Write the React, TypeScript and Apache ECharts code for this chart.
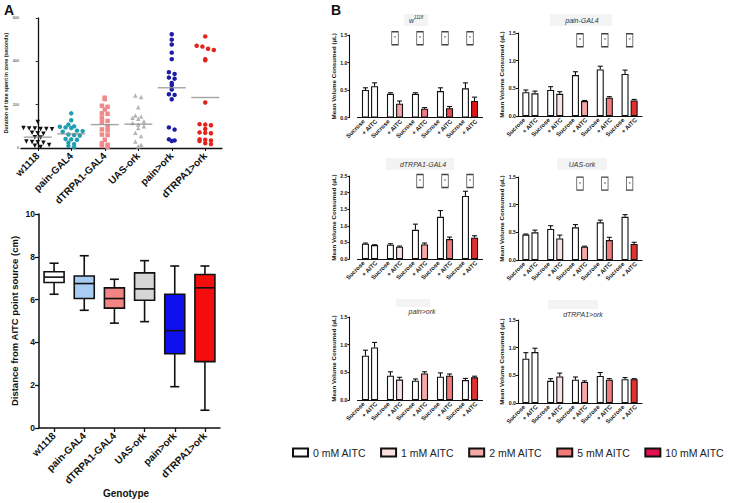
import React, { useEffect, useRef } from 'react';
import * as echarts from 'echarts';

const FONT = '"Liberation Sans", Arial, Helvetica, sans-serif';

// ---------- Panel A (top): time spent in zone ----------
const genotypes = ['w1118', 'pain-GAL4', 'dTRPA1-GAL4', 'UAS-ork', 'pain>ork', 'dTRPA1>ork'];
const dotsW1118 = [120, 92, 90, 90, 88, 88, 86, 70, 68, 66, 50, 48, 30, 28, 26, 24, 14, 10, 5];
const dotsPainGal4 = [160, 128, 108, 100, 98, 95, 92, 80, 78, 75, 62, 60, 58, 42, 40, 38, 25, 18, 10, 4];
const dotsTrpGal4 = [232, 226, 195, 190, 178, 160, 158, 140, 125, 120, 100, 86, 82, 62, 60, 38, 22, 15, 10, 5];
const dotsUasOrk = [242, 235, 188, 150, 145, 140, 135, 123, 115, 108, 100, 92, 70, 55, 30, 15, 8];
const dotsPainOrk = [525, 500, 478, 440, 410, 350, 342, 325, 320, 300, 290, 270, 248, 245, 225, 95, 85, 40, 35, 32];
const dotsTrpOrk = [515, 472, 468, 458, 452, 410, 405, 210, 110, 108, 105, 88, 72, 70, 68, 40, 38, 35, 32, 22, 18];
const dotMeans = [50, 65, 108, 110, 278, 233];
const durationTicks = [0, 200, 400, 600];

// ---------- Panel A (bottom): distance boxplot [min, Q1, median, Q3, max] ----------
const boxW1118 = [6.25, 6.8, 7.05, 7.3, 7.7];
const boxPainGal4 = [5.5, 6.05, 6.75, 7.1, 8.05];
const boxTrpGal4 = [4.9, 5.6, 6.05, 6.55, 6.95];
const boxUasOrk = [4.97, 5.97, 6.5, 7.25, 7.82];
const boxPainOrk = [1.93, 3.47, 4.55, 6.25, 7.57];
const boxTrpOrk = [0.83, 3.1, 6.55, 7.17, 7.57];

// ---------- Panel B: mean volume consumed ----------
const concGroups = ['0 mM', '1 mM', '2 mM', '5 mM', '10 mM'];
const barTickLabels = ['Sucrose', '+ AITC', 'Sucrose', '+ AITC', 'Sucrose', '+ AITC', 'Sucrose', '+ AITC', 'Sucrose', '+ AITC'];
const legendNames = ['0 mM AITC', '1 mM AITC', '2 mM AITC', '5 mM AITC', '10 mM AITC'];

const w1118Suc = [0.50, 0.43, 0.43, 0.48, 0.53];
const w1118SucErr = [0.04, 0.02, 0.02, 0.06, 0.10];
const w1118Aitc = [0.57, 0.25, 0.16, 0.17, 0.30];
const w1118AitcErr = [0.06, 0.05, 0.02, 0.03, 0.07];
const w1118Stars = [1, 2, 3, 4];

const painGal4Suc = [0.43, 0.47, 0.74, 0.84, 0.76];
const painGal4SucErr = [0.04, 0.06, 0.06, 0.06, 0.07];
const painGal4Aitc = [0.41, 0.40, 0.27, 0.33, 0.28];
const painGal4AitcErr = [0.04, 0.04, 0.01, 0.02, 0.02];
const painGal4Stars = [2, 3, 4];

const trpGal4Suc = [0.46, 0.43, 0.88, 1.27, 1.90];
const trpGal4SucErr = [0.02, 0.03, 0.17, 0.19, 0.14];
const trpGal4Aitc = [0.42, 0.37, 0.44, 0.60, 0.64];
const trpGal4AitcErr = [0.01, 0.02, 0.04, 0.06, 0.06];
const trpGal4Stars = [2, 3, 4];

const uasOrkSuc = [0.46, 0.56, 0.59, 0.68, 0.78];
const uasOrkSucErr = [0.01, 0.06, 0.05, 0.04, 0.04];
const uasOrkAitc = [0.50, 0.39, 0.24, 0.36, 0.29];
const uasOrkAitcErr = [0.04, 0.06, 0.01, 0.05, 0.03];
const uasOrkStars = [2, 3, 4];

const painOrkSuc = [0.80, 0.44, 0.35, 0.42, 0.36];
const painOrkSucErr = [0.10, 0.07, 0.03, 0.07, 0.03];
const painOrkAitc = [0.95, 0.37, 0.48, 0.44, 0.41];
const painOrkAitcErr = [0.09, 0.04, 0.03, 0.03, 0.02];

const trpOrkSuc = [0.80, 0.40, 0.42, 0.49, 0.43];
const trpOrkSucErr = [0.11, 0.04, 0.05, 0.06, 0.03];
const trpOrkAitc = [0.92, 0.48, 0.38, 0.42, 0.43];
const trpOrkAitcErr = [0.07, 0.06, 0.02, 0.02, 0.01];

// ---------- styles ----------
const dotStyles = [
  { symbol: 'triangle', rotate: 180, color: '#111111' },
  { symbol: 'circle', rotate: 0, color: '#1f9fb0' },
  { symbol: 'rect', rotate: 0, color: '#f08a8a' },
  { symbol: 'triangle', rotate: 0, color: '#b4b4b4' },
  { symbol: 'circle', rotate: 0, color: '#1c1ca8' },
  { symbol: 'circle', rotate: 0, color: '#e3231c' },
];
const boxColors = ['#ffffff', '#a9cdf2', '#f38484', '#d6d6d6', '#1010ee', '#f50c0c'];
const legendColors = ['#ffffff', '#fbe1e1', '#f5a9a9', '#ef7b7b', '#e3124f'];
const aitcColorsW1118 = ['#ffffff', '#f4a3aa', '#f07a84', '#ec4a55', '#e01515'];
const aitcColorsOther = ['#ffffff', '#fbe1e1', '#f5a9a9', '#f07a7a', '#e63030'];

const panelsB = [
  { name: 'w1118', suc: w1118Suc, sucErr: w1118SucErr, aitc: w1118Aitc, aitcErr: w1118AitcErr, stars: w1118Stars, starY: 1.44, yMax: 1.5, colors: aitcColorsW1118,
    grid: { left: 357.5, top: 35, width: 125, height: 82.5 }, yOffset: 8 },
  { name: 'pain-GAL4', suc: painGal4Suc, sucErr: painGal4SucErr, aitc: painGal4Aitc, aitcErr: painGal4AitcErr, stars: painGal4Stars, starY: 1.37, yMax: 1.5, colors: aitcColorsOther,
    grid: { left: 518, top: 33, width: 124, height: 83 }, yOffset: 0 },
  { name: 'dTRPA1-GAL4', suc: trpGal4Suc, sucErr: trpGal4SucErr, aitc: trpGal4Aitc, aitcErr: trpGal4AitcErr, stars: trpGal4Stars, starY: 2.35, yMax: 2.5, colors: aitcColorsOther,
    grid: { left: 357.5, top: 176, width: 125, height: 83 }, yOffset: 8 },
  { name: 'UAS-ork', suc: uasOrkSuc, sucErr: uasOrkSucErr, aitc: uasOrkAitc, aitcErr: uasOrkAitcErr, stars: uasOrkStars, starY: 1.38, yMax: 1.5, colors: aitcColorsOther,
    grid: { left: 518, top: 177, width: 124, height: 83 }, yOffset: 0 },
  { name: 'pain>ork', suc: painOrkSuc, sucErr: painOrkSucErr, aitc: painOrkAitc, aitcErr: painOrkAitcErr, stars: [] as number[], starY: 1.4, yMax: 1.5, colors: aitcColorsOther,
    grid: { left: 357.5, top: 317, width: 125, height: 83 }, yOffset: 8 },
  { name: 'dTRPA1>ork', suc: trpOrkSuc, sucErr: trpOrkSucErr, aitc: trpOrkAitc, aitcErr: trpOrkAitcErr, stars: [] as number[], starY: 1.4, yMax: 1.5, colors: aitcColorsOther,
    grid: { left: 518, top: 320, width: 124, height: 83 }, yOffset: 0 },
];

const dotGroups = [dotsW1118, dotsPainGal4, dotsTrpGal4, dotsUasOrk, dotsPainOrk, dotsTrpOrk];
const boxGroups = [boxW1118, boxPainGal4, boxTrpGal4, boxUasOrk, boxPainOrk, boxTrpOrk];

// beeswarm-like spread of points that share a value band
function swarm(values: number[], idx: number) {
  const bin = 22;
  const step = 0.17;
  const bins = new Map<number, number[]>();
  values.forEach((v) => {
    const k = Math.round(v / bin);
    if (!bins.has(k)) bins.set(k, []);
    bins.get(k)!.push(v);
  });
  const out: number[][] = [];
  bins.forEach((arr) => arr.forEach((v, j) => out.push([idx + (j - (arr.length - 1) / 2) * step, v])));
  return out;
}

const BAR_W = 7;
const BAR_OFF = (BAR_W * 2 + BAR_W * 0.3) / 2 - BAR_W / 2;

function buildOption() {
  const grids: any[] = [];
  const xAxes: any[] = [];
  const yAxes: any[] = [];
  const series: any[] = [];
  const graphic: any[] = [];
  const axisLine = { show: true, lineStyle: { color: '#111', width: 1.1 } };

  // ----- Panel A top (grid 0) -----
  grids.push({ left: 21, top: 18, width: 201, height: 130 });
  xAxes.push({
    type: 'category', gridIndex: 0, data: genotypes, position: 'bottom',
    axisLine: { show: true, lineStyle: { color: '#111', width: 1.3 } },
    axisTick: { show: true, alignWithLabel: true, length: 3, lineStyle: { color: '#111' } },
    axisLabel: { rotate: 45, interval: 0, margin: 6, fontSize: 10, fontWeight: 'bold', color: '#111', fontFamily: FONT },
  });
  xAxes.push({ type: 'value', gridIndex: 0, min: -0.5, max: 5.5, show: false, position: 'bottom' });
  yAxes.push({
    type: 'value', gridIndex: 0, min: durationTicks[0], max: durationTicks[durationTicks.length - 1], interval: 200,
    axisLine: { show: true, lineStyle: { color: '#111', width: 1.3 } },
    axisTick: { show: true, length: 2, lineStyle: { color: '#111' } },
    splitLine: { show: false },
    axisLabel: { fontSize: 3.8, margin: 2, color: '#222', fontFamily: FONT },
    name: 'Duration of time spent in zone (seconds)', nameLocation: 'middle', nameGap: 12,
    nameTextStyle: { fontSize: 5.2, fontWeight: 'bold', color: '#111', fontFamily: FONT },
  });
  dotGroups.forEach((vals, i) => {
    series.push({
      type: 'scatter', xAxisIndex: 1, yAxisIndex: 0, data: swarm(vals, i),
      symbol: dotStyles[i].symbol, symbolRotate: dotStyles[i].rotate, symbolSize: 4.5,
      itemStyle: { color: dotStyles[i].color, opacity: 1 }, z: 2,
    });
  });
  series.push({
    type: 'scatter', xAxisIndex: 0, yAxisIndex: 0, data: dotMeans.map((m, i) => [i, m]),
    symbol: 'rect', symbolSize: [28, 1.4], itemStyle: { color: '#8c8c8c' }, z: 3,
  });

  // ----- Panel A bottom (grid 1) -----
  grids.push({ left: 39, top: 214, width: 181, height: 214 });
  xAxes.push({
    type: 'category', gridIndex: 1, data: genotypes, position: 'bottom',
    axisLine: { show: true, lineStyle: { color: '#111', width: 1.5 } },
    axisTick: { show: true, alignWithLabel: true, length: 4, lineStyle: { color: '#111', width: 1.3 } },
    axisLabel: { rotate: 45, interval: 0, margin: 6, fontSize: 10, fontWeight: 'bold', color: '#111', fontFamily: FONT },
  });
  yAxes.push({
    type: 'value', gridIndex: 1, min: 0, max: 10, interval: 2,
    axisLine: { show: true, lineStyle: { color: '#111', width: 1.5 } },
    axisTick: { show: true, length: 4, lineStyle: { color: '#111', width: 1.3 } },
    splitLine: { show: false },
    axisLabel: { fontSize: 8.5, fontWeight: 'bold', margin: 4, color: '#111', fontFamily: FONT },
    name: 'Distance from AITC point source (cm)', nameLocation: 'middle', nameGap: 20,
    nameTextStyle: { fontSize: 9.5, fontWeight: 'bold', color: '#111', fontFamily: FONT },
  });
  series.push({
    type: 'custom', xAxisIndex: 2, yAxisIndex: 1,
    data: boxGroups.map((b, i) => [i, ...b]),
    encode: { x: 0, y: [1, 2, 3, 4, 5] },
    renderItem: (params: any, api: any) => {
      const i = api.value(0);
      const pMin = api.coord([i, api.value(1)]);
      const pQ1 = api.coord([i, api.value(2)]);
      const pMed = api.coord([i, api.value(3)]);
      const pQ3 = api.coord([i, api.value(4)]);
      const pMax = api.coord([i, api.value(5)]);
      const x = pMin[0];
      const hw = 10;
      const cw = 4.5;
      const st = { stroke: '#111', lineWidth: 1.6 };
      return {
        type: 'group',
        children: [
          { type: 'line', shape: { x1: x, y1: pMax[1], x2: x, y2: pQ3[1] }, style: st },
          { type: 'line', shape: { x1: x, y1: pQ1[1], x2: x, y2: pMin[1] }, style: st },
          { type: 'line', shape: { x1: x - cw, y1: pMax[1], x2: x + cw, y2: pMax[1] }, style: st },
          { type: 'line', shape: { x1: x - cw, y1: pMin[1], x2: x + cw, y2: pMin[1] }, style: st },
          { type: 'rect', shape: { x: x - hw, y: pQ3[1], width: hw * 2, height: pQ1[1] - pQ3[1] }, style: { fill: boxColors[params.dataIndex], stroke: '#111', lineWidth: 1.6 } },
          { type: 'line', shape: { x1: x - hw, y1: pMed[1], x2: x + hw, y2: pMed[1] }, style: st },
        ],
      };
    },
  });
  graphic.push({ type: 'text', x: 126, y: 493, style: { text: 'Genotype', font: `bold 10px ${FONT}`, fill: '#111', textAlign: 'center', textVerticalAlign: 'middle' } });

  // ----- Panel B -----
  panelsB.forEach((p) => {
    const gi = grids.length;
    grids.push(p.grid);
    const xMain = xAxes.length;
    xAxes.push({
      type: 'category', gridIndex: gi, data: concGroups, position: 'bottom',
      axisLine: axisLine, axisTick: { show: false }, axisLabel: { show: false },
    });
    xAxes.push({
      type: 'category', gridIndex: gi, data: barTickLabels.map((_, j) => 'c' + j), position: 'bottom',
      axisLine: { show: false }, axisTick: { show: false },
      axisLabel: {
        rotate: 45, interval: 0, margin: 3, fontSize: 6, fontWeight: 'bold', color: '#111', fontFamily: FONT,
        formatter: (_: string, idx: number) => barTickLabels[idx],
      },
    });
    const yi = yAxes.length;
    yAxes.push({
      type: 'value', gridIndex: gi, min: 0, max: p.yMax, interval: 0.5, offset: p.yOffset,
      axisLine: axisLine,
      axisTick: { show: true, length: 2, lineStyle: { color: '#111' } },
      splitLine: { show: false },
      axisLabel: { fontSize: 5.2, fontWeight: 'bold', margin: 2, color: '#111', fontFamily: FONT, formatter: (v: number) => v.toFixed(1) },
      name: 'Mean Volume Consumed (µL)', nameLocation: 'middle', nameGap: 12,
      nameTextStyle: { fontSize: 6.2, fontWeight: 'bold', color: '#111', fontFamily: FONT },
    });
    series.push({
      type: 'bar', xAxisIndex: xMain, yAxisIndex: yi, data: p.suc, barWidth: BAR_W, barGap: '30%',
      itemStyle: { color: '#ffffff', borderColor: '#111', borderWidth: 1.1 },
    });
    series.push({
      type: 'bar', xAxisIndex: xMain, yAxisIndex: yi, barWidth: BAR_W, barGap: '30%',
      data: p.aitc.map((v, g) => ({ value: v, itemStyle: { color: p.colors[g] } })),
      itemStyle: { borderColor: '#111', borderWidth: 1.1 },
    });
    const errData = p.suc.map((v, g) => [g, v, p.sucErr[g], -1]).concat(p.aitc.map((v, g) => [g, v, p.aitcErr[g], 1]));
    series.push({
      type: 'custom', xAxisIndex: xMain, yAxisIndex: yi, data: errData, z: 5,
      encode: { x: 0, y: 1 },
      renderItem: (_params: any, api: any) => {
        const g = api.value(0);
        const v = api.value(1);
        const e = api.value(2);
        const side = api.value(3);
        const p0 = api.coord([g, v]);
        const p1 = api.coord([g, v + e]);
        const x = p0[0] + side * BAR_OFF;
        const st = { stroke: '#111', lineWidth: 1.1 };
        return {
          type: 'group',
          children: [
            { type: 'line', shape: { x1: x, y1: p0[1], x2: x, y2: p1[1] }, style: st },
            { type: 'line', shape: { x1: x - 2.5, y1: p1[1], x2: x + 2.5, y2: p1[1] }, style: st },
          ],
        };
      },
    });
    if (p.stars.length) {
      series.push({
        type: 'scatter', xAxisIndex: xMain, yAxisIndex: yi, data: p.stars.map((g) => [g, p.starY]),
        symbol: 'rect', symbolSize: [6.5, 13], z: 6,
        itemStyle: { color: '#ffffff', borderColor: '#111', borderWidth: 1 },
        label: { show: true, formatter: '*', position: 'inside', fontSize: 6, color: '#111', fontFamily: FONT },
      });
    }
  });

  // ----- dummy grid for legend entries -----
  const dg = grids.length;
  grids.push({ left: 0, top: 0, width: 1, height: 1, show: false });
  const dx = xAxes.length;
  xAxes.push({ type: 'category', gridIndex: dg, data: ['x'], show: false });
  const dy = yAxes.length;
  yAxes.push({ type: 'value', gridIndex: dg, show: false });
  legendNames.forEach((n, i) => {
    series.push({
      type: 'bar', name: n, xAxisIndex: dx, yAxisIndex: dy, data: [],
      itemStyle: { color: legendColors[i], borderColor: '#111', borderWidth: 1.3 },
    });
  });

  // ----- panel letters & titles -----
  graphic.push({ type: 'text', x: 4, y: 3, style: { text: 'A', font: `bold 14px ${FONT}`, fill: '#111' } });
  graphic.push({ type: 'text', x: 331, y: 3, style: { text: 'B', font: `bold 14px ${FONT}`, fill: '#111' } });
  const titleBoxes = [
    { x: 404, y: 14, w: 24, h: 12 },
    { x: 550, y: 14, w: 62, h: 12 },
    { x: 386, y: 158, w: 68, h: 12 },
    { x: 557, y: 158, w: 50, h: 12 },
    { x: 396, y: 299, w: 34, h: 8 },
    { x: 548, y: 300, w: 50, h: 9 },
  ];
  titleBoxes.forEach((b) => graphic.push({ type: 'rect', shape: { x: b.x, y: b.y, width: b.w, height: b.h }, style: { fill: '#f3f3f3' }, z: -1 }));
  const titleFont = `italic 7px ${FONT}`;
  graphic.push({ type: 'text', x: 409, y: 20, style: { text: 'w', font: titleFont, fill: '#333', textVerticalAlign: 'middle' } });
  graphic.push({ type: 'text', x: 414, y: 17.5, style: { text: '1118', font: `italic 4.5px ${FONT}`, fill: '#333', textVerticalAlign: 'middle' } });
  const titlePos = [
    { x: 582, y: 20 },
    { x: 423, y: 164 },
    { x: 582, y: 164 },
    { x: 422, y: 311 },
    { x: 583, y: 314 },
  ];
  panelsB.slice(1).forEach((p, i) => {
    graphic.push({ type: 'text', x: titlePos[i].x, y: titlePos[i].y, style: { text: p.name, font: titleFont, fill: '#333', textAlign: 'center', textVerticalAlign: 'middle' } });
  });

  return {
    animation: false,
    backgroundColor: '#ffffff',
    textStyle: { fontFamily: FONT },
    grid: grids,
    xAxis: xAxes,
    yAxis: yAxes,
    series,
    graphic,
    legend: {
      data: legendNames, left: 287, top: 442, width: 445, icon: 'rect', itemWidth: 15, itemHeight: 8, itemGap: 14,
      selectedMode: false,
      textStyle: { fontSize: 10.5, color: '#222', fontFamily: FONT },
    },
  };
}

export default function App() {
  const ref = useRef<HTMLDivElement>(null);
  useEffect(() => {
    if (!ref.current) return;
    const chart = echarts.init(ref.current, undefined, { renderer: 'svg' });
    chart.setOption(buildOption() as any);
    return () => chart.dispose();
  }, []);
  return <div ref={ref} style={{ position: 'absolute', left: 0, top: 0, width: 732, height: 503, background: '#fff' }} />;
}
